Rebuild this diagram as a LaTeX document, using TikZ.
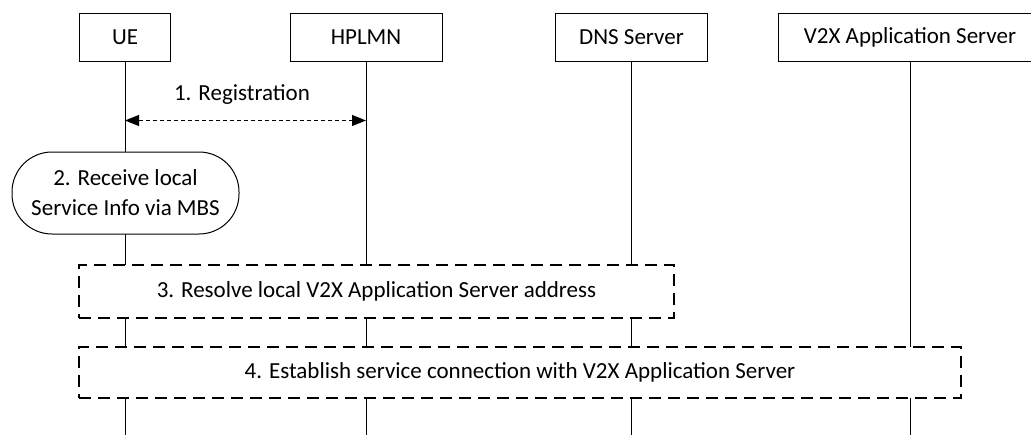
\documentclass[tikz,border=0pt]{standalone}
\usepackage{fontspec}
\setmainfont{Carlito}
\usetikzlibrary{arrows.meta}
\begin{document}
\begin{tikzpicture}[x=1pt,y=-1pt,
  txt/.style={font=\fontsize{23}{30}\selectfont},
  actor/.style={draw, line width=1pt, minimum height=48pt, inner sep=0pt, fill=white, txt},
  life/.style={line width=1pt},
  proc/.style={draw, line width=1.3pt, dash pattern=on 12pt off 7pt, fill=white, inner sep=0pt, txt},
  stadium/.style={draw, line width=1pt, rounded corners=40pt, fill=white, inner sep=0pt, align=center, txt},
  msg/.style={line width=1pt, dash pattern=on 4pt off 3pt, {Triangle[length=14pt,width=11pt]}-{Triangle[length=14pt,width=11pt]}},
]
\useasboundingbox (0,0) rectangle (1031,434);
\clip (0,0) rectangle (1031,434);
\fill[white] (0,0) rectangle (1031,434);

% actors
\node[actor, minimum width=91pt]  (ue)  at (125,37) {UE};
\node[actor, minimum width=152pt] (hp)  at (366,37) {HPLMN};
\node[actor, minimum width=152pt] (dns) at (631.5,37) {DNS Server};
\node[actor, minimum width=264pt] (v2x) at (910,37) {V2X Application Server};

% lifeline ends
\coordinate (ueend)  at (125,440);
\coordinate (hpend)  at (366,440);
\coordinate (dnsend) at (631.5,440);
\coordinate (v2xend) at (910,440);

\draw[life] (ue.south)  -- (ueend);
\draw[life] (hp.south)  -- (hpend);
\draw[life] (dns.south) -- (dnsend);
\draw[life] (v2x.south) -- (v2xend);

% 1. Registration
\coordinate (r1) at (125,120.5);
\coordinate (r2) at (366,120.5);
\draw[msg] (r1) -- (r2);
\node[txt] (l1) at (242,95) {1. Registration};

% 2. stadium
\node[stadium, minimum width=227pt, minimum height=82pt] (s2) at (125.5,193)
  {2. Receive local\\Service Info via MBS};

% 3. and 4.
\node[proc, minimum width=595pt, minimum height=53pt] (s3) at (376.5,291.5)
  {3. Resolve local V2X Application Server address};
\node[proc, minimum width=882pt, minimum height=51pt] (s4) at (520,372.5)
  {4. Establish service connection with V2X Application Server};
\end{tikzpicture}
\end{document}
